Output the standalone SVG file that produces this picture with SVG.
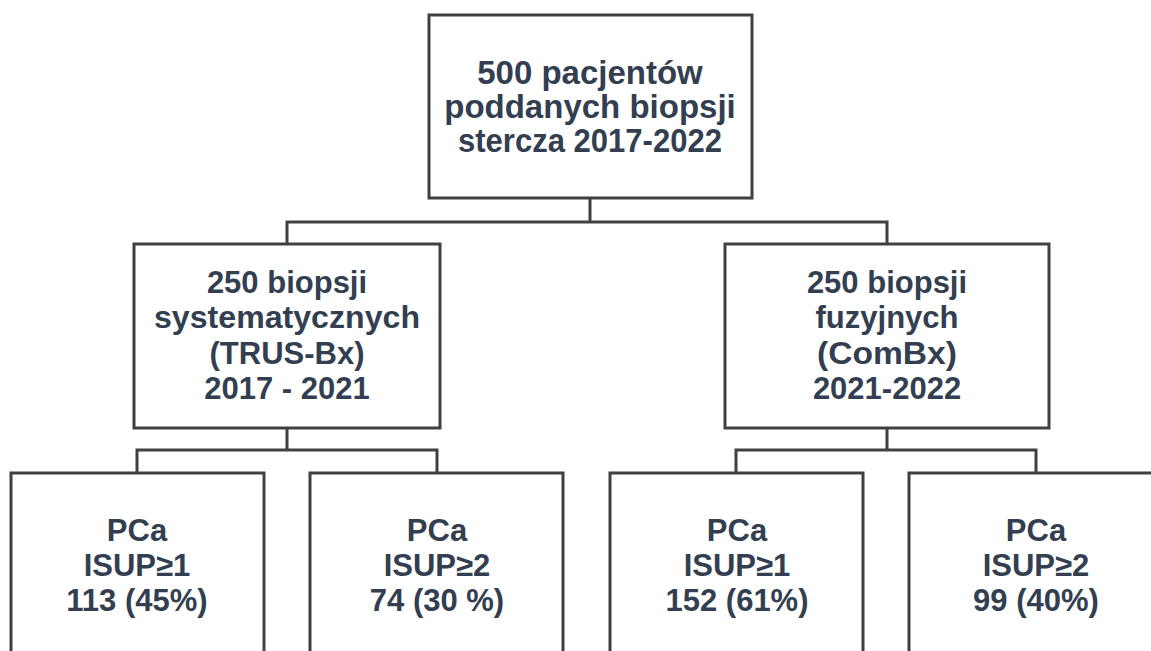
<svg xmlns="http://www.w3.org/2000/svg" width="1151" height="651" viewBox="0 0 1151 651">
<style>
.box{fill:#ffffff;stroke:#404040;stroke-width:3}
.conn{fill:none;stroke:#404040;stroke-width:3}
.t{font-family:"Liberation Sans",Arial,sans-serif;font-weight:bold;fill:#333f50;text-anchor:middle}
.t1{font-size:33px}
.t2{font-size:31px}
</style>
<rect x="0" y="0" width="1151" height="651" fill="#ffffff"/>
<g id="connectors">
<path class="conn" d="M590,198V222M287,244V222H887V244"/>
<path class="conn" d="M287,428V450M137,473V450H437V473"/>
<path class="conn" d="M887,428V450M736,473V450H1036V473"/>
</g>
<g id="root">
<rect class="box" x="429" y="15" width="323" height="183"/>
<text class="t t1" x="590" y="84">500 pacjentów</text>
<text class="t t1" x="590" y="118">poddanych biopsji</text>
<text class="t t1" x="590" y="152" textLength="264" lengthAdjust="spacingAndGlyphs">stercza 2017-2022</text>
</g>
<g id="trus">
<rect class="box" x="134" y="244" width="306" height="184"/>
<text class="t t2" x="287" y="293">250 biopsji</text>
<text class="t t2" x="287" y="328" textLength="266" lengthAdjust="spacingAndGlyphs">systematycznych</text>
<text class="t t2" x="287" y="364">(TRUS-Bx)</text>
<text class="t t2" x="287" y="399">2017 - 2021</text>
</g>
<g id="combx">
<rect class="box" x="725" y="244" width="324" height="184"/>
<text class="t t2" x="887" y="293">250 biopsji</text>
<text class="t t2" x="887" y="328">fuzyjnych</text>
<text class="t t2" x="887" y="364" textLength="140" lengthAdjust="spacingAndGlyphs">(ComBx)</text>
<text class="t t2" x="887" y="399">2021-2022</text>
</g>
<g id="trus-isup1">
<rect class="box" x="11" y="473" width="253" height="240"/>
<text class="t t2" x="137" y="541">PCa</text>
<text class="t t2" x="137" y="576">ISUP≥1</text>
<text class="t t2" x="137" y="611">113 (45%)</text>
</g>
<g id="trus-isup2">
<rect class="box" x="310" y="473" width="253" height="240"/>
<text class="t t2" x="437" y="541">PCa</text>
<text class="t t2" x="437" y="576">ISUP≥2</text>
<text class="t t2" x="437" y="611">74 (30 %)</text>
</g>
<g id="combx-isup1">
<rect class="box" x="610" y="473" width="253" height="240"/>
<text class="t t2" x="737" y="541">PCa</text>
<text class="t t2" x="737" y="576">ISUP≥1</text>
<text class="t t2" x="737" y="611">152 (61%)</text>
</g>
<g id="combx-isup2">
<rect class="box" x="909" y="473" width="254" height="240"/>
<text class="t t2" x="1036" y="541">PCa</text>
<text class="t t2" x="1036" y="576">ISUP≥2</text>
<text class="t t2" x="1036" y="611">99 (40%)</text>
</g>
</svg>
